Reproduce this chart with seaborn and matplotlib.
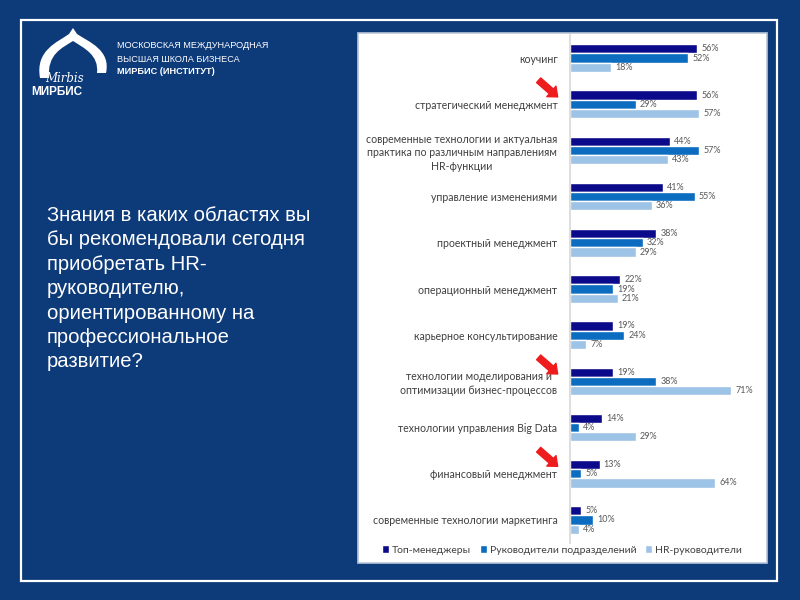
import numpy as np
import pandas as pd
import seaborn as sns
import matplotlib.pyplot as plt
from matplotlib.path import Path
from matplotlib.patches import PathPatch, Rectangle

categories = [
    "коучинг",
    "стратегический менеджмент",
    "современные технологии и актуальная\nпрактика по различным направлениям\nHR-функции",
    "управление изменениями",
    "проектный менеджмент",
    "операционный менеджмент",
    "карьерное консультирование",
    "технологии моделирования и\nоптимизации бизнес-процессов",
    "технологии управления Big Data",
    "финансовый менеджмент",
    "современные технологии маркетинга",
]
groups = ["Топ-менеджеры", "Руководители подразделений", "HR-руководители"]
top_managers = [56, 56, 44, 41, 38, 22, 19, 19, 14, 13, 5]
dept_heads = [52, 29, 57, 55, 32, 19, 24, 38, 4, 5, 10]
hr_heads = [18, 57, 43, 36, 29, 21, 7, 71, 29, 64, 4]
arrow_rows = [1, 7, 9]  # categories marked with red arrows

question = ("Знания в каких областях вы\nбы рекомендовали сегодня\nприобретать HR-\n"
            "руководителю,\nориентированному на\nпрофессиональное\nразвитие?")

colors = ["#0a0a8a", "#0b6cc0", "#9dc3e6"]
bg_color = "#0d3a79"

df = pd.DataFrame({
    "category": categories * 3,
    "group": np.repeat(groups, len(categories)),
    "value": top_managers + dept_heads + hr_heads,
})

sns.set_theme(style="white")
plt.rcParams["font.family"] = ["Lato", "DejaVu Sans"]

fig = plt.figure(figsize=(8, 6), dpi=100, facecolor=bg_color)

# slide background in pixel coordinates
bg = fig.add_axes([0, 0, 1, 1], zorder=0)
bg.set_xlim(0, 800)
bg.set_ylim(600, 0)
bg.axis("off")
bg.add_patch(Rectangle((21, 20), 756, 561, fill=False, ec="white", lw=1.6))
bg.add_patch(Rectangle((358, 33), 409, 530, fc="white", ec="#b9c6d8", lw=1.2))

# logo dome
verts = [(40, 78), (35, 50), (58, 42), (69, 34), (73, 28), (77, 34),
         (89, 42), (111, 50), (106, 73), (97, 73), (99, 55), (84, 48),
         (73, 41), (62, 48), (47, 54), (49, 78), (40, 78)]
codes = [Path.MOVETO, Path.CURVE4, Path.CURVE4, Path.CURVE4, Path.LINETO,
         Path.LINETO, Path.CURVE4, Path.CURVE4, Path.CURVE4, Path.LINETO,
         Path.CURVE4, Path.CURVE4, Path.CURVE4, Path.CURVE4, Path.CURVE4,
         Path.CURVE4, Path.CLOSEPOLY]
bg.add_patch(PathPatch(Path(verts, codes), fc="white", ec="none"))
bg.text(64, 78, "Mirbis", color="white", fontsize=8.5, style="italic",
        family="DejaVu Serif", ha="center", va="center")
bg.text(57, 92, "МИРБИС", color="white", fontsize=8.5, fontweight="bold",
        family="Liberation Sans", ha="center", va="center")
for y, line, w in [(46, "МОСКОВСКАЯ МЕЖДУНАРОДНАЯ", "normal"),
                   (59, "ВЫСШАЯ ШКОЛА БИЗНЕСА", "normal"),
                   (72, "МИРБИС (ИНСТИТУТ)", "bold")]:
    bg.text(117, y, line, color="white", fontsize=6.6, fontweight=w,
            family="Liberation Sans", va="center")

bg.text(47, 206, question, color="white", fontsize=14.6, family="Liberation Sans",
        va="top", linespacing=1.36)

# chart
ax = fig.add_axes([570 / 800, 1 - 543 / 600, 190 / 800, 508 / 600], zorder=1)
ax.patch.set_alpha(0)
sns.barplot(data=df, y="category", x="value", hue="group", orient="h",
            palette=colors, width=0.6, ax=ax, saturation=1)
ax.set_xlim(0, 190 / 2.27)
ax.set_xlabel("")
ax.set_ylabel("")
ax.set_xticks([])
for side in ["top", "right", "bottom"]:
    ax.spines[side].set_visible(False)
ax.spines["left"].set_color("#d9d9d9")
ax.tick_params(axis="y", length=0, pad=9, labelsize=7.6, labelcolor="#404040")
for lab in ax.get_yticklabels():
    lab.set_multialignment("center")
    lab.set_linespacing(1.32)

for cont in ax.containers:
    ax.bar_label(cont, labels=[f"{v:.0f}%" for v in cont.datavalues],
                 padding=3, fontsize=6.5, color="#595959")

for i in arrow_rows:
    ax.annotate("", xy=(-0.065, i - 0.16), xytext=(-0.165, i - 0.52),
                xycoords=("axes fraction", "data"),
                textcoords=("axes fraction", "data"),
                arrowprops=dict(arrowstyle="simple,head_length=0.6,head_width=1.0,tail_width=0.45",
                                color="#ee1c1c", mutation_scale=10,
                                shrinkA=0, shrinkB=0))

handles, labels = ax.get_legend_handles_labels()
ax.legend_.remove()
fig.legend(handles, labels, loc="center", bbox_to_anchor=(562 / 800, 1 - 550 / 600),
           ncol=3, frameon=False, fontsize=7.5, handlelength=0.7, handleheight=0.7,
           handletextpad=0.3, columnspacing=0.8, labelcolor="#404040")

fig.savefig("out.png", dpi=100, facecolor=bg_color)
